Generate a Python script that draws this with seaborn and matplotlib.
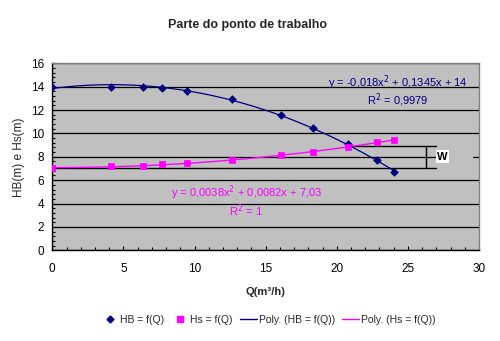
import matplotlib
matplotlib.use("Agg")
import matplotlib.pyplot as plt
import seaborn as sns
import numpy as np
import pandas as pd
from matplotlib.ticker import MultipleLocator
from matplotlib.lines import Line2D

# Data
Q = [0, 4.1, 6.35, 7.7, 9.5, 12.6, 16.07, 18.3, 20.8, 22.8, 24.0]
HB = [14.0, 14.0, 14.0, 13.9, 13.65, 12.92, 11.55, 10.5, 9.12, 7.72, 6.67]
Hs = [7.04, 7.18, 7.24, 7.35, 7.44, 7.72, 8.12, 8.41, 8.81, 9.24, 9.46]

title = "Parte do ponto de trabalho"
xlabel = "Q(m³/h)"
ylabel = "HB(m) e Hs(m)"
eq_hb = "y = -0,018x$^2$ + 0,1345x + 14"
r2_hb = "R$^2$ = 0,9979"
eq_hs = "y = 0,0038x$^2$ + 0,0082x + 7,03"
r2_hs = "R$^2$ = 1"
legend_labels = ["HB = f(Q)", "Hs = f(Q)", "Poly. (HB = f(Q))", "Poly. (Hs = f(Q))"]

# W marker (operating point band)
w_low, w_high = 7.03, 8.92
w_x_start_high = 20.8
w_x_end = 26.96
w_x_vert = 26.3

df = pd.DataFrame({"Q": Q, "HB": HB, "Hs": Hs})

sns.set_style("white")
plt.rcParams['font.family'] = ['Liberation Sans', 'DejaVu Sans']

NAVY = "#000080"
MAG = "#FF00FF"

fig = plt.figure(figsize=(5, 3.41), dpi=100)
ax = fig.add_axes([0.1046, 0.266, 0.8534, 0.5484])
ax.set_facecolor("#C0C0C0")

# trendlines
sns.regplot(data=df, x="Q", y="Hs", order=2, ci=None, scatter=False, truncate=True,
            line_kws=dict(color=MAG, lw=1.0, zorder=3), ax=ax)
sns.regplot(data=df, x="Q", y="HB", order=2, ci=None, scatter=False, truncate=True,
            line_kws=dict(color=NAVY, lw=0.9, zorder=3), ax=ax)

# W band lines
ax.plot([0, w_x_end], [w_low, w_low], color="black", lw=1.0, zorder=2.5)
ax.plot([w_x_start_high, w_x_end], [w_high, w_high], color="black", lw=1.0, zorder=2.5)
ax.plot([w_x_vert, w_x_vert], [w_low, w_high], color="black", lw=1.0, zorder=2.5)

# markers
sns.scatterplot(data=df, x="Q", y="HB", marker="D", s=15, color=NAVY, edgecolor=NAVY,
                linewidth=0.5, zorder=4, ax=ax)
sns.scatterplot(data=df, x="Q", y="Hs", marker="s", s=24, color=MAG, edgecolor=MAG,
                linewidth=0.5, zorder=4, ax=ax)

ax.set_xlim(0, 30)
ax.set_ylim(0, 16)
ax.xaxis.set_major_locator(MultipleLocator(5))
ax.xaxis.set_minor_locator(MultipleLocator(1))
ax.yaxis.set_major_locator(MultipleLocator(2))
ax.yaxis.set_minor_locator(MultipleLocator(0.4))
ax.tick_params(which="both", direction="in", colors="black", labelsize=8.5)
ax.tick_params(which="major", length=3, width=0.8, pad=6)
ax.tick_params(axis="x", which="major", pad=9)
ax.tick_params(which="minor", length=2, width=0.8)
ax.tick_params(axis="x", which="both", bottom=True)
ax.tick_params(axis="y", which="both", left=True)

ax.yaxis.grid(True, color="black", lw=0.9)
ax.set_axisbelow(True)

for s in ["left", "bottom"]:
    ax.spines[s].set_color("black")
    ax.spines[s].set_linewidth(1.0)
for s in ["top", "right"]:
    ax.spines[s].set_color("#808080")
    ax.spines[s].set_linewidth(1.0)

# W label box covering gridline at 8
ax.add_patch(plt.Rectangle((26.96, 7.6), 2.65, 0.8, facecolor="#C0C0C0", edgecolor="none", zorder=2))
ax.text(27.05, 8.0, "W", fontsize=8, fontweight="bold", color="black", va="center", ha="left",
        bbox=dict(boxstyle="square,pad=0.12", facecolor="white", edgecolor="none"), zorder=5)

ax.set_xlabel(xlabel, fontsize=8, fontweight="bold", labelpad=9)
ax.set_ylabel(ylabel, fontsize=8.5, labelpad=4)

# equation texts
ax.text(24.3, 14.3, eq_hb, color=NAVY, fontsize=8, ha="center", va="center")
ax.text(24.3, 12.85, r2_hb, color=NAVY, fontsize=8, ha="center", va="center")
ax.text(13.7, 4.95, eq_hs, color=MAG, fontsize=8, ha="center", va="center")
ax.text(13.6, 3.4, r2_hs, color=MAG, fontsize=8, ha="center", va="center")

fig.text(0.496, 0.928, title, ha="center", va="center", fontsize=9, fontweight="bold")

handles = [
    Line2D([], [], marker="D", color=NAVY, ls="none", markersize=3.5),
    Line2D([], [], marker="s", color=MAG, ls="none", markersize=4.5),
    Line2D([], [], color=NAVY, lw=1.0),
    Line2D([], [], color=MAG, lw=1.0),
]
fig.legend(handles, legend_labels, loc="center", bbox_to_anchor=(0.537, 0.062), ncol=4,
           frameon=False, fontsize=7.5, handlelength=1.6, handletextpad=0.2, columnspacing=0.7)

fig.savefig("out.png", dpi=100)
